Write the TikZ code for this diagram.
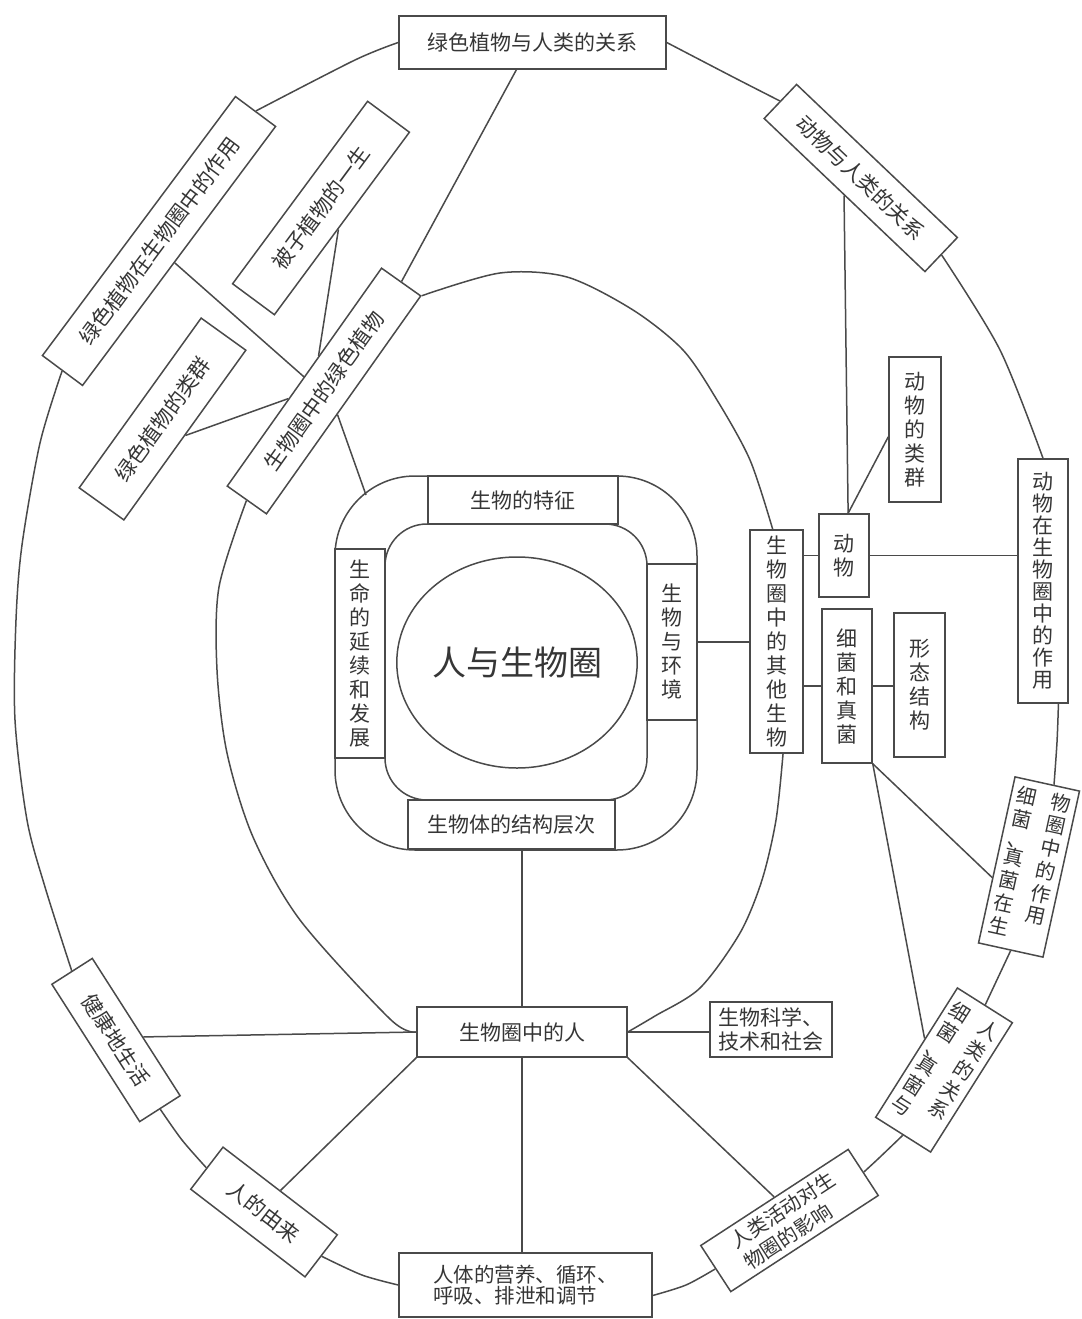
\documentclass[tikz,border=0pt]{standalone}
\usepackage{fontspec}
\newfontfamily\cjk{Noto Sans CJK SC}
\usetikzlibrary{calc,shapes.geometric}
\definecolor{linec}{HTML}{4A4A4A}
\definecolor{textc}{HTML}{363636}
\newcommand\vcol[1]{\begin{tabular}[t]{@{}c@{}}#1\end{tabular}}
\begin{document}
\begin{tikzpicture}[x=1pt,y=-1pt,
  box/.style={draw=linec, line width=1.5pt, fill=white, inner sep=0pt, text=textc,
    font=\cjk\fontsize{21}{24}\selectfont, align=center},
  conn/.style={draw=linec, line width=1.5pt},
  ring/.style={draw=linec, line width=1.5pt, line join=round}]
\useasboundingbox[fill=white] (0,0) rectangle (1081,1319);

% central rings
\draw[ring, rounded corners=80pt] (335,476) rectangle (697,850);
\draw[ring, rounded corners=42pt] (385,524) rectangle (647,800);
\node[draw=linec, line width=1.5pt, ellipse, minimum width=222pt, minimum height=211pt,
  inner sep=0pt, text=textc, font=\cjk\fontsize{34}{40}\selectfont] (core) at (517,662.5) {人与生物圈};

\node[box, minimum width=190pt, minimum height=48pt] (feat) at (523,500) {生物的特征};
\node[box, minimum width=50pt, minimum height=209pt] (life) at (360,653.5) {生\\命\\的\\延\\续\\和\\发\\展};
\node[box, minimum width=50pt, minimum height=156pt] (env) at (672,642) {生\\物\\与\\环\\境};
\node[box, minimum width=207pt, minimum height=49pt] (struct) at (511.5,824.5) {生物体的结构层次};

% upper left
\node[box, minimum width=267pt, minimum height=53pt] (top) at (532.5,42.5) {绿色植物与人类的关系};
\node[box, rotate=53.3, minimum width=323pt, minimum height=50pt] (roleplant) at (159,241) {绿色植物在生物圈中的作用};
\node[box, rotate=53.5, minimum width=227pt, minimum height=52pt] (angio) at (321,208) {被子植物的一生};
\node[box, rotate=54.3, minimum width=209pt, minimum height=55pt] (plantgrp) at (162.5,419) {绿色植物的类群};
\node[box, rotate=54.7, minimum width=267pt, minimum height=48pt] (green) at (324,391) {生物圈中的绿色植物};

% right
\node[box, rotate=-43.6, minimum width=222pt, minimum height=47pt] (animhum) at (860.75,178) {动物与人类的关系};
\node[box, minimum width=52pt, minimum height=145pt] (animgrp) at (915,429.5) {动\\物\\的\\类\\群};
\node[box, minimum width=50pt, minimum height=244pt, font=\cjk\fontsize{21}{22}\selectfont] (animrole) at (1043,581) {动\\物\\在\\生\\物\\圈\\中\\的\\作\\用};
\node[box, minimum width=53pt, minimum height=223pt] (other) at (776.5,641.5) {生\\物\\圈\\中\\的\\其\\他\\生\\物};
\node[box, minimum width=50pt, minimum height=83pt] (animal) at (844,555.5) {动\\物};
\node[box, minimum width=50pt, minimum height=154pt] (bact) at (847,686) {细\\菌\\和\\真\\菌};
\node[box, minimum width=51pt, minimum height=144pt] (morph) at (919.5,685) {形\\态\\结\\构};
\node[box, rotate=-12.4, minimum width=66pt, minimum height=170pt, font=\cjk\fontsize{20}{22}\selectfont] (bactrole) at (1029,867)
  {\vcol{细\\菌\\、\\[-6pt]真\\菌\\在\\生}\hspace{14pt}\vcol{物\\圈\\中\\的\\作\\用}};
\node[box, rotate=-32.3, minimum width=65pt, minimum height=153pt, font=\cjk\fontsize{20}{22}\selectfont] (bacthum) at (944,1070)
  {\vcol{细\\菌\\、\\[-6pt]真\\菌\\与}\hspace{14pt}\vcol{人\\类\\的\\关\\系}};

% bottom
\node[box, minimum width=210pt, minimum height=50pt] (man) at (522,1032) {生物圈中的人};
\node[box, minimum width=122pt, minimum height=55pt] (sci) at (771,1029.5) {生物科学、\\技术和社会};
\node[box, rotate=33.1, minimum width=176pt, minimum height=55pt, align=left, font=\cjk\fontsize{20}{25}\selectfont] (hact) at (789.5,1220.5) {人类活动对生\\物圈的影响};
\node[box, minimum width=253pt, minimum height=64pt, align=left, font=\cjk\fontsize{20.5}{21}\selectfont] (body) at (525.5,1285) {人体的营养、循环、\\呼吸、排泄和调节};
\node[box, rotate=-37.5, minimum width=144pt, minimum height=53pt] (origin) at (264,1212) {人的由来};
\node[box, rotate=-57.4, minimum width=163pt, minimum height=48pt] (healthy) at (116,1040) {健康地生活};

% outer curve segments
\draw[ring] plot[smooth] coordinates {(top.east) (733,77) (animhum.west)};
\draw[ring] plot[smooth] coordinates {(animhum.east) (1000,350) (animrole.north)};
\draw[ring] plot[smooth] coordinates {($(animrole.south west)!0.8!(animrole.south east)$) (1057,742) ($(bactrole.north west)!0.6!(bactrole.north east)$)};
\draw[ring] (bactrole.south) -- (bacthum.north);
\draw[ring] plot[smooth] coordinates {(bacthum.south) (879,1158) (hact.east)};
\draw[ring] plot[smooth] coordinates {(hact.west) (686,1285) ($(body.north east)!0.66!(body.south east)$)};
\draw[ring] plot[smooth] coordinates {(body.west) (362,1275) (origin.east)};
\draw[ring] plot[smooth] coordinates {(origin.west) (182,1140) (healthy.east)};
\draw[ring] plot[smooth] coordinates {(healthy.west) (45,887) (27,820) (15,720) (16,620) (22,545) (40,443) (roleplant.west)};
\draw[ring] plot[smooth] coordinates {(roleplant.east) (355,60) (top.west)};

% middle curve
\draw[ring] plot[smooth] coordinates {(man.west) (390,1019) (300,920) (253,837) (227,753) (217,670) (219,587) (green.west)};
\draw[ring] plot[smooth] coordinates {(green.south east) (500,273) (567,277) (633,310) (683,350) (717,400) (750,460) ($(other.north west)!0.43!(other.north east)$)};
\draw[ring] plot[smooth] coordinates {($(other.south west)!0.62!(other.south east)$) (776,820) (762,880) (740,933) (700,988) (655,1016) (man.east)};

% connectors upper left
\coordinate (r1) at (366,495);
\draw[conn] ($(top.south west)!0.44!(top.south east)$) -- (green.east);
\draw[conn] ($(roleplant.south west)!0.475!(roleplant.south east)$) -- (green.north);
\draw[conn] ($(angio.south west)!0.47!(angio.south east)$) -- ($(green.north west)!0.595!(green.north east)$);
\draw[conn] (plantgrp.south) -- ($(green.north west)!0.40!(green.north east)$);
\draw[conn] ($(green.south west)!0.457!(green.south east)$) -- (r1);

% connectors right
\draw[conn] (env.east) -- (env.east -| other.west);
\draw[conn] (animal.west -| other.east) -- (animal.west);
\draw[conn] (bact.west -| other.east) -- (bact.west);
\draw[conn] (bact.east) -- (bact.east -| morph.west);
\draw[conn] (animal.east) -- (animal.east -| animrole.west);
\coordinate (atop) at ($(animal.north west)!0.58!(animal.north east)$);
\draw[conn] (animhum.south) -- (atop);
\draw[conn] ($(animgrp.north west)!0.55!(animgrp.south west)$) -- (atop);
\draw[conn] (bact.south east) -- ($(bactrole.north west)!0.606!(bactrole.south west)$);
\draw[conn] (bact.south east) -- ($(bacthum.north west)!0.395!(bacthum.south west)$);

% connectors bottom
\draw[conn] (man.north) -- (man.north |- struct.south);
\draw[conn] (man.south) -- (man.south |- body.north);
\draw[conn] (man.east) -- (man.east -| sci.west);
\draw[conn] (man.south east) -- (hact.north);
\draw[conn] (man.west) -- ($(healthy.north west)!0.574!(healthy.north east)$);
\draw[conn] (man.south west) -- (origin.north);
\end{tikzpicture}
\end{document}
